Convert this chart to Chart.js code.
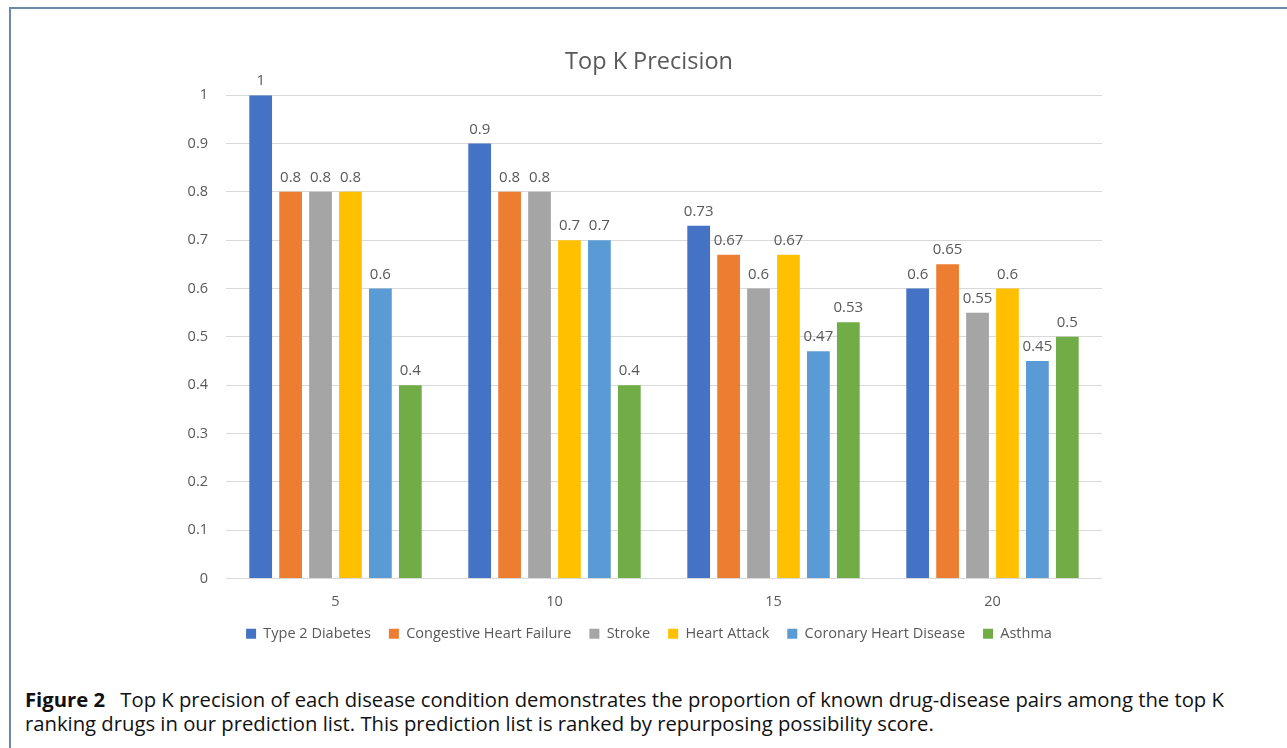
<!DOCTYPE html>
<html>
<head>
<meta charset="utf-8">
<script src="https://cdn.jsdelivr.net/npm/chart.js@4"></script>
<style>
  html, body { margin: 0; padding: 0; background: #fff; width: 1287px; height: 748px; overflow: hidden; }
  #frame { position: absolute; left: 9px; top: 7px; width: 1300px; height: 780px; border: 2px solid #6d89a6; box-sizing: border-box; }
  #wrap { position: absolute; left: 0; top: 0; width: 1287px; height: 680px; }
  #caption { position: absolute; left: 25px; top: 687px; font-family: "Open Sans", "DejaVu Sans", sans-serif; font-size: 19px; line-height: 24px; color: #111; white-space: nowrap; }
  #caption b { font-weight: bold; margin-right: 10px; }
</style>
</head>
<body>
<div id="frame"></div>
<div id="wrap"><canvas id="c" width="1287" height="680"></canvas></div>
<div id="caption"><span id="l1"><b>Figure 2</b> Top K precision of each disease condition demonstrates the proportion of known drug-disease pairs among the top K</span><br><span>ranking drugs in our prediction list. This prediction list is ranked by repurposing possibility score.</span></div>
<script>
const categories = ["5", "10", "15", "20"];
const seriesNames = ["Type 2 Diabetes", "Congestive Heart Failure", "Stroke", "Heart Attack", "Coronary Heart Disease", "Asthma"];
const type2Diabetes = [1, 0.9, 0.73, 0.6];
const congestiveHeartFailure = [0.8, 0.8, 0.67, 0.65];
const stroke = [0.8, 0.8, 0.6, 0.55];
const heartAttack = [0.8, 0.7, 0.67, 0.6];
const coronaryHeartDisease = [0.6, 0.7, 0.47, 0.45];
const asthma = [0.4, 0.4, 0.53, 0.5];
const colors = ["#4472C4", "#ED7D31", "#A5A5A5", "#FFC000", "#5B9BD5", "#70AD47"];
const yTicks = [0, 0.1, 0.2, 0.3, 0.4, 0.5, 0.6, 0.7, 0.8, 0.9, 1];

const allSeries = [type2Diabetes, congestiveHeartFailure, stroke, heartAttack, coronaryHeartDisease, asthma];
const FONT = "'Open Sans', Lato, sans-serif";

// fit caption first line to the reference width
(function () {
  const cap = document.getElementById('caption');
  const l1 = document.getElementById('l1');
  const w = l1.getBoundingClientRect().width;
  const target = 1200;
  cap.style.fontSize = (19 * target / w).toFixed(2) + 'px';
})();

const dataLabels = {
  id: 'dataLabels',
  afterDatasetsDraw(chart) {
    const ctx = chart.ctx;
    ctx.save();
    ctx.font = "15px " + FONT;
    ctx.fillStyle = "#595959";
    ctx.textAlign = "center";
    ctx.textBaseline = "alphabetic";
    chart.data.datasets.forEach((ds, i) => {
      const meta = chart.getDatasetMeta(i);
      meta.data.forEach((el, j) => {
        ctx.fillText(String(ds.data[j]), el.x, el.y - 10);
      });
    });
    ctx.restore();
  }
};

new Chart(document.getElementById('c'), {
  type: 'bar',
  data: {
    labels: categories,
    datasets: allSeries.map((d, i) => ({
      label: seriesNames[i],
      data: d,
      backgroundColor: colors[i],
      borderWidth: 0,
      categoryPercentage: 0.82,
      barPercentage: 0.76
    }))
  },
  options: {
    responsive: false,
    animation: false,
    devicePixelRatio: 1,
    layout: { padding: { left: 196, right: 185, top: 48, bottom: 29 } },
    plugins: {
      title: {
        display: true,
        text: "Top K Precision",
        color: "#595959",
        font: { family: FONT, size: 23.5, weight: 'normal' },
        padding: { top: 0, bottom: 19 }
      },
      legend: {
        position: 'bottom',
        labels: {
          color: "#595959",
          font: { family: FONT, size: 14.5 },
          boxWidth: 10,
          boxHeight: 10,
          padding: 18
        }
      },
      tooltip: { enabled: false }
    },
    scales: {
      x: {
        afterFit(scale) { scale.height = 30; scale._computeLabelArea = () => undefined; },
        grid: { display: false, drawTicks: false },
        border: { display: false },
        ticks: { color: "#595959", font: { family: FONT, size: 14.5 }, padding: 15 }
      },
      y: {
        min: 0,
        max: 1,
        afterFit(scale) { scale.width = 30; scale._computeLabelArea = () => undefined; },
        afterBuildTicks(scale) { scale.ticks = yTicks.map(v => ({ value: v })); },
        grid: { color: "#d9d9d9", drawTicks: false, lineWidth: 1 },
        border: { display: false },
        ticks: {
          color: "#595959",
          font: { family: FONT, size: 14.5 },
          padding: 18,
          callback: (v) => String(Math.round(v * 10) / 10)
        }
      }
    }
  },
  plugins: [dataLabels]
});
</script>
</body>
</html>
